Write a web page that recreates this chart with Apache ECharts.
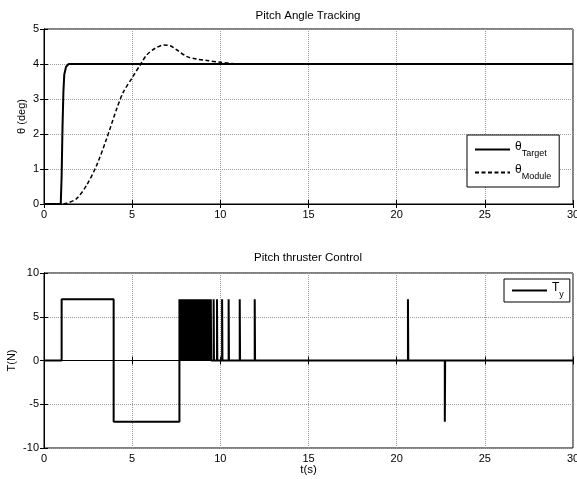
<!DOCTYPE html>
<html>
<head>
<meta charset="utf-8">
<script src="https://cdn.jsdelivr.net/npm/echarts@6/dist/echarts.min.js"></script>
<style>
html, body { margin: 0; padding: 0; background: #fff; }
#chart { width: 577px; height: 479px; }
</style>
</head>
<body>
<div id="chart"></div>
<script>
// pitch angle (deg) vs time (s)
const targetTime = [0, 0.95, 1.0, 1.05, 1.1, 1.15, 1.25, 1.4, 30];
const targetAngle = [0, 0, 0.8, 2.2, 3.2, 3.7, 3.92, 4.0, 4.0];
const moduleTime = [0, 1.0, 1.29, 1.86, 2.42, 2.99, 3.56, 4.13, 4.51, 4.98, 5.45, 5.83, 6.31, 6.78, 7.16, 7.54, 8.11, 8.67, 9.24, 10.0, 10.8, 30];
const moduleAngle = [0, 0, 0.02, 0.16, 0.54, 1.11, 1.88, 2.73, 3.21, 3.59, 3.97, 4.26, 4.45, 4.54, 4.52, 4.40, 4.21, 4.14, 4.10, 4.05, 4.01, 4.0];

// thruster force (N): the step part, then +7 N pulses, then one -7 N pulse
const thrustTime = [0, 1.0, 1.0, 3.95, 3.95, 7.68, 7.68, 7.71, 7.71];
const thrustLevel = [0, 0, 7, 7, -7, -7, 7, 7, 0];
const pulseStart = [7.74, 7.80, 7.86, 7.92, 7.98, 8.04, 8.10, 8.16, 8.22, 8.28, 8.34, 8.40, 8.46, 8.52, 8.58,
  8.64, 8.70, 8.76, 8.82, 8.88, 8.94, 9.00, 9.07, 9.14, 9.21, 9.28, 9.36, 9.46, 9.62, 9.81, 10.10, 10.47,
  11.10, 11.95, 20.64];
const pulseLevel = 7;
const negPulseStart = [22.73];
const negPulseLevel = -7;
const pulseWidth = 0.02;
const tEnd = 30;

const xTicks = [0, 5, 10, 15, 20, 25, 30];

function zip(a, b) { return a.map((v, i) => [v, b[i]]); }

const thrustData = zip(thrustTime, thrustLevel);
pulseStart.forEach(p => {
  thrustData.push([p, 0], [p, pulseLevel], [p + pulseWidth, pulseLevel], [p + pulseWidth, 0]);
});
negPulseStart.forEach(p => {
  thrustData.push([p, 0], [p, negPulseLevel], [p + pulseWidth, negPulseLevel], [p + pulseWidth, 0]);
});
thrustData.push([tEnd, 0]);

const font = 'Liberation Sans, Arial, sans-serif';

function mainX(grid, extra) {
  return Object.assign({
    type: 'value', gridIndex: grid, min: xTicks[0], max: xTicks[xTicks.length - 1], interval: 5,
    axisLine: { lineStyle: { color: '#000', width: 1 } },
    axisTick: { inside: true, length: 4, lineStyle: { color: '#000' } },
    axisLabel: { color: '#000', fontSize: 11, fontFamily: font, margin: 5 },
    splitLine: { show: true, lineStyle: { color: '#9a9a9a', type: 'dotted', width: 1 } }
  }, extra || {});
}
function mainY(grid, min, max, interval, extra) {
  return Object.assign({
    type: 'value', gridIndex: grid, min: min, max: max, interval: interval,
    axisLine: { show: true, lineStyle: { color: '#000', width: 1 } },
    axisTick: { show: true, inside: true, length: 4, lineStyle: { color: '#000' } },
    axisLabel: { color: '#000', fontSize: 11, fontFamily: font, margin: 5 },
    splitLine: { show: true, lineStyle: { color: '#9a9a9a', type: 'dotted', width: 1 } },
    nameLocation: 'middle',
    nameMoveOverlap: false,
    nameTextStyle: { color: '#000', fontSize: 11, fontFamily: font }
  }, extra || {});
}
// box axes: top and right, ticks only
function boxX(grid) {
  return {
    type: 'value', gridIndex: grid, position: 'top', min: 0, max: 30, interval: 5,
    axisLine: { lineStyle: { color: '#000' } },
    axisTick: { inside: true, length: 4, lineStyle: { color: '#000' } },
    axisLabel: { show: false }, splitLine: { show: false }
  };
}
function boxY(grid, min, max, interval) {
  return {
    type: 'value', gridIndex: grid, position: 'right', min: min, max: max, interval: interval,
    axisLine: { show: true, lineStyle: { color: '#000' } },
    axisTick: { show: true, inside: true, length: 4, lineStyle: { color: '#000' } },
    axisLabel: { show: false }, splitLine: { show: false }
  };
}

const subRich = {
  a: { fontSize: 12, fontFamily: font, color: '#000', lineHeight: 17, verticalAlign: 'top' },
  b: { fontSize: 9, fontFamily: font, color: '#000', verticalAlign: 'bottom' }
};
const legendNames = { 'θTarget': '{a|θ}{b|Target}', 'θModule': '{a|θ}{b|Module}', 'Ty': '{a|T}{b|y}' };

const option = {
  animation: false,
  backgroundColor: '#fff',
  title: [
    { text: 'Pitch Angle Tracking', left: 308, top: 10, textAlign: 'center', padding: 0,
      textStyle: { fontSize: 11.5, fontWeight: 'normal', color: '#000', fontFamily: font } },
    { text: 'Pitch thruster Control', left: 308, top: 252, textAlign: 'center', padding: 0,
      textStyle: { fontSize: 11.5, fontWeight: 'normal', color: '#000', fontFamily: font } }
  ],
  grid: [
    { left: 44, top: 29, width: 529, height: 175, show: true, borderColor: '#000', borderWidth: 1,
      containLabel: false, outerBoundsMode: 'none' },
    { left: 44, top: 273, width: 529, height: 175, show: true, borderColor: '#000', borderWidth: 1,
      containLabel: false, outerBoundsMode: 'none' }
  ],
  xAxis: [
    mainX(0),
    mainX(1, { name: 't(s)', nameLocation: 'middle', nameGap: 16, nameMoveOverlap: false,
      nameTextStyle: { color: '#000', fontSize: 11.5, fontFamily: font } }),
    boxX(0),
    boxX(1)
  ],
  yAxis: [
    mainY(0, 0, 5, 1, { name: 'θ (deg)', nameGap: 17 }),
    mainY(1, -10, 10, 5, { name: 'T(N)', nameGap: 27 }),
    boxY(0, 0, 5, 1),
    boxY(1, -10, 10, 5)
  ],
  legend: [
    { data: ['θTarget', 'θModule'], orient: 'vertical', left: 467, top: 135,
      padding: [6, 8, 6, 7], itemWidth: 35, itemHeight: 14, itemGap: 6,
      borderColor: '#000', borderWidth: 1, borderRadius: 0, backgroundColor: '#fff',
      itemStyle: { opacity: 0 },
      formatter: n => legendNames[n], textStyle: { rich: subRich } },
    { data: ['Ty'], orient: 'vertical', left: 504, top: 279,
      padding: [3, 6, 3, 7], itemWidth: 35, itemHeight: 14,
      borderColor: '#000', borderWidth: 1, borderRadius: 0, backgroundColor: '#fff',
      itemStyle: { opacity: 0 },
      formatter: n => legendNames[n], textStyle: { rich: subRich } }
  ],
  series: [
    { name: 'θTarget', type: 'line', xAxisIndex: 0, yAxisIndex: 0, symbol: 'none',
      lineStyle: { color: '#000', width: 2 }, itemStyle: { color: '#000' },
      data: zip(targetTime, targetAngle) },
    { name: 'θModule', type: 'line', xAxisIndex: 0, yAxisIndex: 0, symbol: 'none', smooth: 0.3,
      lineStyle: { color: '#000', width: 1.5, type: [4, 2.5] }, itemStyle: { color: '#000' },
      data: zip(moduleTime, moduleAngle) },
    { name: 'Ty', type: 'line', xAxisIndex: 1, yAxisIndex: 1, symbol: 'none',
      lineStyle: { color: '#000', width: 2 }, itemStyle: { color: '#000' },
      data: thrustData }
  ]
};

const chart = echarts.init(document.getElementById('chart'), null, { renderer: 'canvas' });
chart.setOption(option);
</script>
</body>
</html>
